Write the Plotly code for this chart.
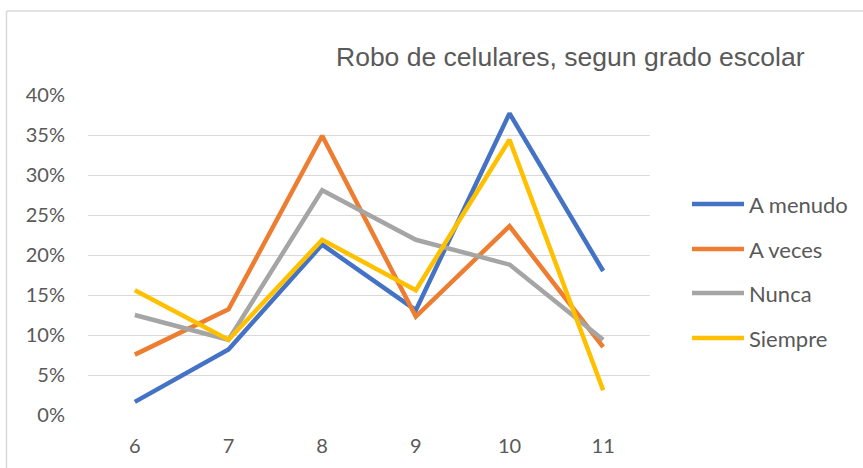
import plotly.graph_objects as go

categories = ["6", "7", "8", "9", "10", "11"]
series_names = ["A menudo", "A veces", "Nunca", "Siempre"]
a_menudo = [0.0164, 0.082, 0.213, 0.131, 0.377, 0.180]
a_veces = [0.0755, 0.132, 0.349, 0.123, 0.236, 0.085]
nunca = [0.125, 0.094, 0.281, 0.219, 0.188, 0.094]
siempre = [0.156, 0.094, 0.219, 0.156, 0.344, 0.031]
colors = ["#4472C4", "#ED7D31", "#A5A5A5", "#FFC000"]
title_text = "Robo de celulares, segun grado escolar"

W, H = 863, 468
L, R, T, B = 88, 650, 95, 415  # plot area in px

def px_x(px):
    return (px - L) / (R - L)

def px_y(py):
    return (B - py) / (B - T)

fig = go.Figure()
values = [a_menudo, a_veces, nunca, siempre]
for name, vals, col in zip(series_names, values, colors):
    fig.add_trace(go.Scatter(
        x=categories, y=vals, name=name, mode="lines",
        line=dict(color=col, width=4.5), showlegend=False,
    ))

tick_font = dict(family="Lato, Liberation Sans, Arial", size=20, color="#595959")
legend_font = dict(family="Lato, Liberation Sans, Arial", size=22, color="#595959")

shapes = []
annotations = []
# chart border (left and top)
shapes.append(dict(type="line", xref="paper", yref="paper",
                   x0=px_x(6.5), x1=px_x(6.5), y0=px_y(11), y1=px_y(480),
                   line=dict(color="#D9D9D9", width=1.5)))
shapes.append(dict(type="line", xref="paper", yref="paper",
                   x0=px_x(6.5), x1=px_x(880), y0=px_y(11), y1=px_y(11),
                   line=dict(color="#D9D9D9", width=1.5)))

# custom legend
leg_y = [204, 249, 293, 338]
for name, col, yy in zip(series_names, colors, leg_y):
    shapes.append(dict(type="line", xref="paper", yref="paper",
                       x0=px_x(692), x1=px_x(744), y0=px_y(yy), y1=px_y(yy),
                       line=dict(color=col, width=4.5)))
    annotations.append(dict(text=name, xref="paper", yref="paper",
                            x=px_x(747), y=px_y(yy), xanchor="left", yanchor="middle",
                            showarrow=False, font=legend_font))

annotations.append(dict(text=title_text, xref="paper", yref="paper",
                        x=px_x(570), y=px_y(57), xanchor="center", yanchor="middle",
                        showarrow=False,
                        font=dict(family="Liberation Sans, Arial", size=26.5, color="#595959")))

fig.update_layout(
    width=W, height=H,
    margin=dict(l=L, r=W - R, t=T, b=H - B, pad=0),
    paper_bgcolor="white", plot_bgcolor="white",
    shapes=shapes, annotations=annotations,
    xaxis=dict(type="category", range=[-0.5, 5.5], showgrid=False, zeroline=False,
               showline=False, ticks="", tickfont=tick_font, ticklabelstandoff=17),
    yaxis=dict(range=[0, 0.4], dtick=0.05, tickformat=".0%", showgrid=True,
               gridcolor="#D9D9D9", gridwidth=1.3, zeroline=False, showline=False,
               ticks="", tickfont=tick_font, ticklabelstandoff=22),
    showlegend=False,
)

fig.write_html("out.html", config={"displayModeBar": False},
               post_script="document.body.style.margin='0';document.body.style.overflow='hidden';")
